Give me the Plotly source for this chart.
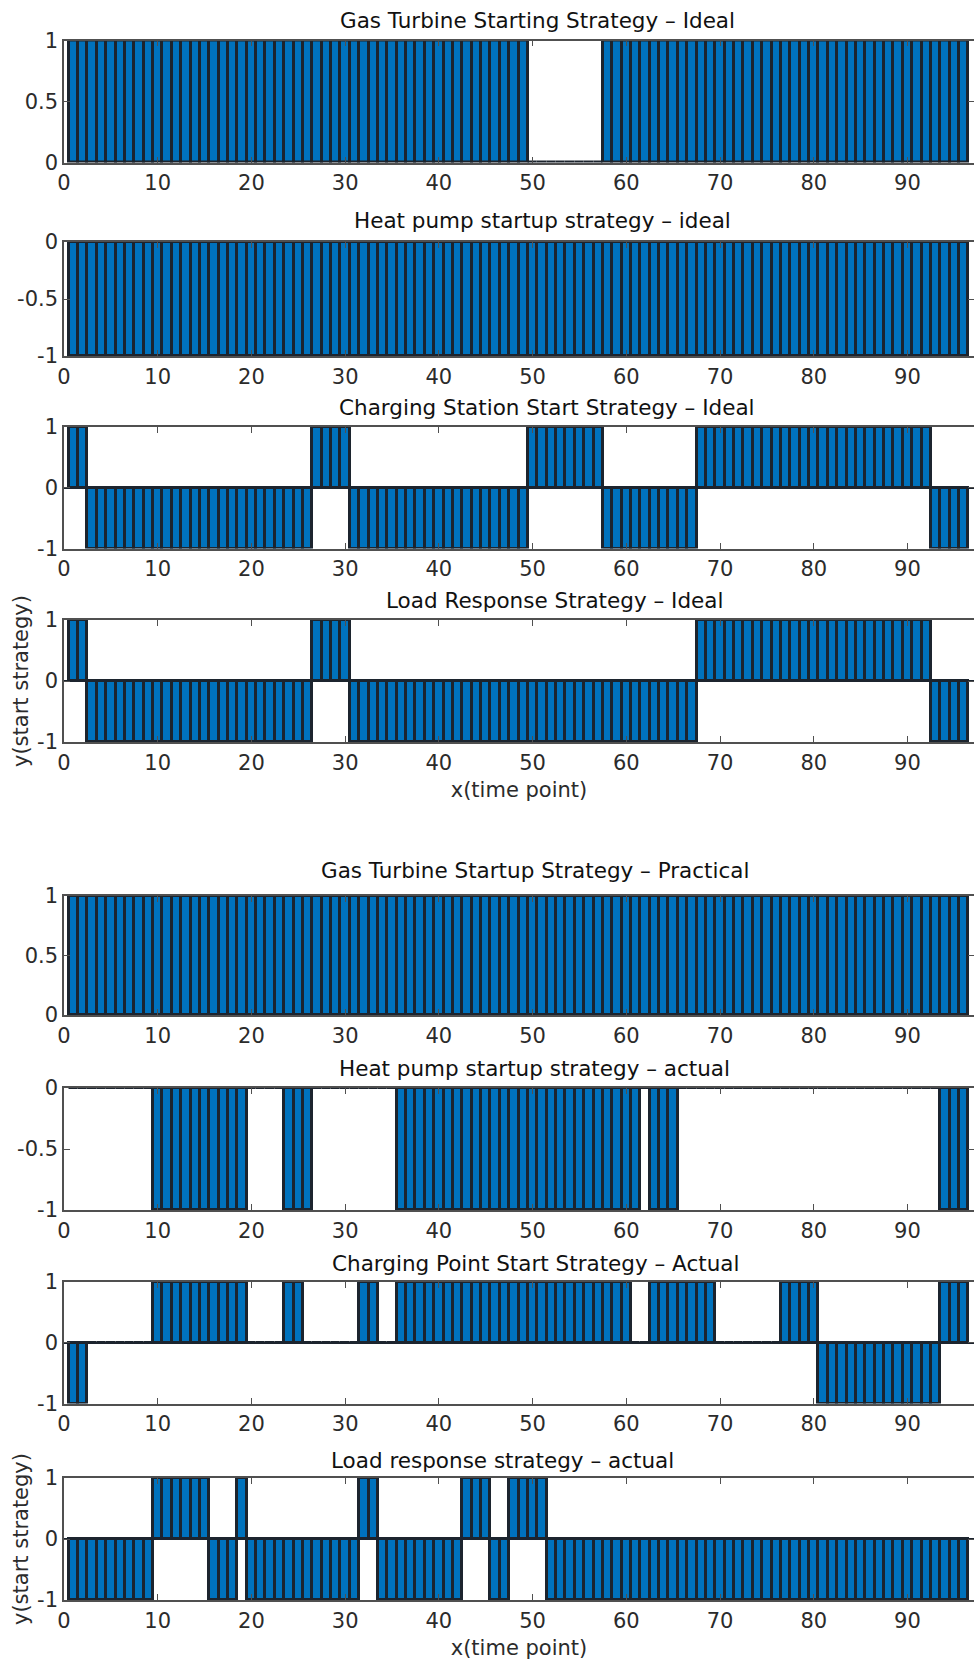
import plotly.graph_objects as go

# time points 1..96
TIME = list(range(1, 97))

GT_IDEAL = [
    1, 1, 1, 1, 1, 1, 1, 1, 1, 1, 1, 1, 1, 1, 1, 1,
    1, 1, 1, 1, 1, 1, 1, 1, 1, 1, 1, 1, 1, 1, 1, 1,
    1, 1, 1, 1, 1, 1, 1, 1, 1, 1, 1, 1, 1, 1, 1, 1,
    1, 0, 0, 0, 0, 0, 0, 0, 0, 1, 1, 1, 1, 1, 1, 1,
    1, 1, 1, 1, 1, 1, 1, 1, 1, 1, 1, 1, 1, 1, 1, 1,
    1, 1, 1, 1, 1, 1, 1, 1, 1, 1, 1, 1, 1, 1, 1, 1,
]

HP_IDEAL = [
    -1, -1, -1, -1, -1, -1, -1, -1, -1, -1, -1, -1, -1, -1, -1, -1,
    -1, -1, -1, -1, -1, -1, -1, -1, -1, -1, -1, -1, -1, -1, -1, -1,
    -1, -1, -1, -1, -1, -1, -1, -1, -1, -1, -1, -1, -1, -1, -1, -1,
    -1, -1, -1, -1, -1, -1, -1, -1, -1, -1, -1, -1, -1, -1, -1, -1,
    -1, -1, -1, -1, -1, -1, -1, -1, -1, -1, -1, -1, -1, -1, -1, -1,
    -1, -1, -1, -1, -1, -1, -1, -1, -1, -1, -1, -1, -1, -1, -1, -1,
]

CS_IDEAL = [
    1, 1, -1, -1, -1, -1, -1, -1, -1, -1, -1, -1, -1, -1, -1, -1,
    -1, -1, -1, -1, -1, -1, -1, -1, -1, -1, 1, 1, 1, 1, -1, -1,
    -1, -1, -1, -1, -1, -1, -1, -1, -1, -1, -1, -1, -1, -1, -1, -1,
    -1, 1, 1, 1, 1, 1, 1, 1, 1, -1, -1, -1, -1, -1, -1, -1,
    -1, -1, -1, 1, 1, 1, 1, 1, 1, 1, 1, 1, 1, 1, 1, 1,
    1, 1, 1, 1, 1, 1, 1, 1, 1, 1, 1, 1, -1, -1, -1, -1,
]

LR_IDEAL = [
    1, 1, -1, -1, -1, -1, -1, -1, -1, -1, -1, -1, -1, -1, -1, -1,
    -1, -1, -1, -1, -1, -1, -1, -1, -1, -1, 1, 1, 1, 1, -1, -1,
    -1, -1, -1, -1, -1, -1, -1, -1, -1, -1, -1, -1, -1, -1, -1, -1,
    -1, -1, -1, -1, -1, -1, -1, -1, -1, -1, -1, -1, -1, -1, -1, -1,
    -1, -1, -1, 1, 1, 1, 1, 1, 1, 1, 1, 1, 1, 1, 1, 1,
    1, 1, 1, 1, 1, 1, 1, 1, 1, 1, 1, 1, -1, -1, -1, -1,
]

GT_ACTUAL = [
    1, 1, 1, 1, 1, 1, 1, 1, 1, 1, 1, 1, 1, 1, 1, 1,
    1, 1, 1, 1, 1, 1, 1, 1, 1, 1, 1, 1, 1, 1, 1, 1,
    1, 1, 1, 1, 1, 1, 1, 1, 1, 1, 1, 1, 1, 1, 1, 1,
    1, 1, 1, 1, 1, 1, 1, 1, 1, 1, 1, 1, 1, 1, 1, 1,
    1, 1, 1, 1, 1, 1, 1, 1, 1, 1, 1, 1, 1, 1, 1, 1,
    1, 1, 1, 1, 1, 1, 1, 1, 1, 1, 1, 1, 1, 1, 1, 1,
]

HP_ACTUAL = [
    0, 0, 0, 0, 0, 0, 0, 0, 0, -1, -1, -1, -1, -1, -1, -1,
    -1, -1, -1, 0, 0, 0, 0, -1, -1, -1, 0, 0, 0, 0, 0, 0,
    0, 0, 0, -1, -1, -1, -1, -1, -1, -1, -1, -1, -1, -1, -1, -1,
    -1, -1, -1, -1, -1, -1, -1, -1, -1, -1, -1, -1, -1, 0, -1, -1,
    -1, 0, 0, 0, 0, 0, 0, 0, 0, 0, 0, 0, 0, 0, 0, 0,
    0, 0, 0, 0, 0, 0, 0, 0, 0, 0, 0, 0, 0, -1, -1, -1,
]

CP_ACTUAL = [
    -1, -1, 0, 0, 0, 0, 0, 0, 0, 1, 1, 1, 1, 1, 1, 1,
    1, 1, 1, 0, 0, 0, 0, 1, 1, 0, 0, 0, 0, 0, 0, 1,
    1, 0, 0, 1, 1, 1, 1, 1, 1, 1, 1, 1, 1, 1, 1, 1,
    1, 1, 1, 1, 1, 1, 1, 1, 1, 1, 1, 1, 0, 0, 1, 1,
    1, 1, 1, 1, 1, 0, 0, 0, 0, 0, 0, 0, 1, 1, 1, 1,
    -1, -1, -1, -1, -1, -1, -1, -1, -1, -1, -1, -1, -1, 1, 1, 1,
]

LR_ACTUAL = [
    -1, -1, -1, -1, -1, -1, -1, -1, -1, 1, 1, 1, 1, 1, 1, -1,
    -1, -1, 1, -1, -1, -1, -1, -1, -1, -1, -1, -1, -1, -1, -1, 1,
    1, -1, -1, -1, -1, -1, -1, -1, -1, -1, 1, 1, 1, -1, -1, 1,
    1, 1, 1, -1, -1, -1, -1, -1, -1, -1, -1, -1, -1, -1, -1, -1,
    -1, -1, -1, -1, -1, -1, -1, -1, -1, -1, -1, -1, -1, -1, -1, -1,
    -1, -1, -1, -1, -1, -1, -1, -1, -1, -1, -1, -1, -1, -1, -1, -1,
]

TITLES = [
    "Gas Turbine Starting Strategy \u2013 Ideal",
    "Heat pump startup strategy \u2013 ideal",
    "Charging Station Start Strategy \u2013 Ideal",
    "Load Response Strategy \u2013 Ideal",
    "Gas Turbine Startup Strategy \u2013 Practical",
    "Heat pump startup strategy \u2013 actual",
    "Charging Point Start Strategy \u2013 Actual",
    "Load response strategy \u2013 actual",
]

X_TICKS = [0, 10, 20, 30, 40, 50, 60, 70, 80, 90]
Y_TICKS_POS = [0, 0.5, 1]
Y_TICKS_POS_TEXT = ["0", "0.5", "1"]
Y_TICKS_NEG = [-1, -0.5, 0]
Y_TICKS_NEG_TEXT = ["-1", "-0.5", "0"]
Y_TICKS_SYM = [-1, 0, 1]
Y_TICKS_SYM_TEXT = ["-1", "0", "1"]

X_LABEL = "x(time point)"
Y_LABEL = "y(start strategy)"

SERIES = [GT_IDEAL, HP_IDEAL, CS_IDEAL, LR_IDEAL,
          GT_ACTUAL, HP_ACTUAL, CP_ACTUAL, LR_ACTUAL]
for s in SERIES:
    assert len(s) == len(TIME)

W, H = 974, 1668
# panel frames in pixels: (top, bottom)
FRAMES = [(40.5, 162.5), (242, 356), (427, 548.5), (620, 742),
          (896, 1015), (1088, 1210), (1282, 1403.5), (1478, 1600)]
# title anchor points in pixels: (x centre, y centre)
TITLE_POS = [(537, 20), (542, 220), (547, 407), (554, 600),
             (535, 870), (534, 1068), (535, 1263), (502, 1460)]
Y_KIND = ["pos", "neg", "sym", "sym", "pos", "neg", "sym", "sym"]

X_LEFT = 64
BAR_BLUE = "#0072BD"
EDGE = "#1c242e"
AXIS_COL = "#505050"
TEXT_COL = "#2b2b2b"
FONT = "DejaVu Sans"

fig = go.Figure()
layout = dict(
    width=W, height=H,
    margin=dict(l=0, r=0, t=0, b=0, autoexpand=False),
    paper_bgcolor="white", plot_bgcolor="white",
    showlegend=False, bargap=0,
    font=dict(family=FONT, size=21, color=TEXT_COL),
    annotations=[],
)

for i, (vals, (top, bot), kind) in enumerate(zip(SERIES, FRAMES, Y_KIND)):
    n = i + 1
    xa = "x" if n == 1 else f"x{n}"
    ya = "y" if n == 1 else f"y{n}"
    fig.add_trace(go.Bar(
        x=TIME, y=vals, width=1, xaxis=xa, yaxis=ya,
        marker=dict(color=BAR_BLUE, line=dict(color=EDGE, width=3)),
        hoverinfo="x+y",
    ))
    if kind == "pos":
        yr, tv, tt = [0, 1], Y_TICKS_POS, Y_TICKS_POS_TEXT
    elif kind == "neg":
        yr, tv, tt = [-1, 0], Y_TICKS_NEG, Y_TICKS_NEG_TEXT
    else:
        yr, tv, tt = [-1, 1], Y_TICKS_SYM, Y_TICKS_SYM_TEXT

    common = dict(showline=True, linecolor=AXIS_COL, linewidth=1.5,
                  mirror="ticks", ticks="inside", ticklen=6,
                  tickcolor=AXIS_COL, tickwidth=1.2, showgrid=False,
                  layer="above traces", automargin=False,
                  tickfont=dict(family=FONT, size=21, color=TEXT_COL))
    xkey = "xaxis" if n == 1 else f"xaxis{n}"
    ykey = "yaxis" if n == 1 else f"yaxis{n}"
    layout[xkey] = dict(common, domain=[X_LEFT / W, 1], range=[0, 97.1],
                        anchor=ya, tickvals=X_TICKS, zeroline=False,
                        ticklabelstandoff=1)
    layout[ykey] = dict(common, domain=[1 - bot / H, 1 - top / H], range=yr,
                        anchor=xa, tickvals=tv, ticktext=tt,
                        zeroline=(kind == "sym"), zerolinecolor=EDGE,
                        zerolinewidth=1.5)
    if n in (4, 8):
        layout[xkey]["title"] = dict(text=X_LABEL, standoff=8,
                                     font=dict(family=FONT, size=21, color=TEXT_COL))
        layout[ykey]["title"] = dict(text=Y_LABEL, standoff=3,
                                     font=dict(family=FONT, size=21, color=TEXT_COL))

    cx, cy = TITLE_POS[i]
    layout["annotations"].append(dict(
        text=TITLES[i], x=cx / W, y=1 - cy / H, xref="paper", yref="paper",
        xanchor="center", yanchor="middle", showarrow=False,
        font=dict(family=FONT, size=21.5, color="#111111"),
    ))

fig.update_layout(**layout)
fig.write_html("out.html")
